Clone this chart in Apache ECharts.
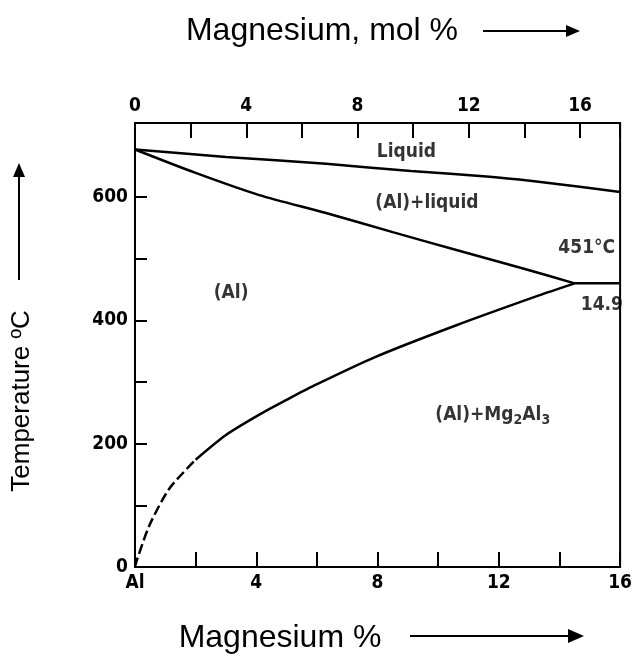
<!DOCTYPE html>
<html>
<head>
<meta charset="utf-8">
<script src="https://cdn.jsdelivr.net/npm/echarts@6/dist/echarts.min.js"></script>
<style>
  html, body { margin: 0; padding: 0; background: #fff; }
  #chart { width: 635px; height: 664px; }
</style>
</head>
<body>
<div id="chart"></div>
<script>
// Al-Mg phase diagram, Al-rich side (wt% Mg on the bottom, mol% on top)
var liquidus = [[0, 677], [3.0, 665], [6.3, 654], [9.1, 642], [11.7, 633], [13.1, 626], [14.6, 617], [16, 608]];
var solidus = [[0, 677], [2.0, 639], [4.1, 603], [6.3, 574], [8.5, 543], [10.6, 514], [12.8, 484], [14.5, 460]];
var solvus = [[2.0, 174], [3.0, 214], [4.1, 247], [5.0, 271], [5.9, 294], [7.9, 340], [10.6, 392], [13.3, 440], [14.5, 460]];
var solvusDashed = [[0, 0], [0.06, 11], [0.48, 68], [1.13, 127], [2.0, 174]];
var eutectic = [[14.5, 460], [16, 460]];

var yTicks = [0, 100, 200, 300, 400, 500, 600];
var yLabels = [0, 200, 400, 600];

// region labels, anchored in data space (wt%, degC)
var regionLabels = [
  { name: 'Liquid', value: [8.95, 673] },
  { name: '(Al)+liquid', value: [9.63, 590] },
  { name: '(Al)', value: [3.17, 444] },
  { name: '451°C', value: [14.9, 517] },
  { name: '14.9', value: [15.4, 425] },
  { name: '(Al)+Mg{s|2}Al{s|3}', value: [11.8, 246] }
];

var chart = echarts.init(document.getElementById('chart'));
var tickFont = 'DejaVu Sans Condensed';
var lineW = 2.5;

function curve(name, data, dashed) {
  return {
    name: name,
    type: 'line',
    xAxisIndex: 0,
    yAxisIndex: 0,
    data: data,
    showSymbol: false,
    smooth: 0.25,
    silent: true,
    lineStyle: { color: '#000', width: lineW, type: dashed ? [10, 4] : 'solid' }
  };
}

var labelStyle = { color: '#000', fontSize: 19, fontFamily: tickFont, fontWeight: 'bold' };

var option = {
  animation: false,
  backgroundColor: '#fff',
  grid: {
    left: 135, top: 123, right: 5, bottom: 97,
    show: true, borderColor: '#000', borderWidth: 2
  },
  xAxis: [{
    type: 'value',
    position: 'bottom',
    min: 0, max: 16, interval: 2,
    axisLine: { lineStyle: { color: '#000', width: 2 } },
    axisTick: { inside: true, length: 15, lineStyle: { color: '#000', width: 2 } },
    splitLine: { show: false },
    axisLabel: Object.assign({
      margin: 7,
      formatter: function (v) {
        if (v === 0) return 'Al';
        return v % 4 === 0 ? String(v) : '';
      }
    }, labelStyle)
  }, {
    type: 'value',
    position: 'top',
    min: 0, max: 17.44, interval: 2,
    axisLine: { lineStyle: { color: '#000', width: 2 } },
    axisTick: { inside: true, length: 15, lineStyle: { color: '#000', width: 2 } },
    splitLine: { show: false },
    axisLabel: Object.assign({
      margin: 7,
      formatter: function (v) { return v % 4 === 0 ? String(v) : ''; }
    }, labelStyle)
  }],
  yAxis: [{
    type: 'value',
    min: 0, max: 720, interval: 100,
    axisLine: { show: true, lineStyle: { color: '#000', width: 2 } },
    axisTick: { show: true, inside: true, length: 12, customValues: yTicks, lineStyle: { color: '#000', width: 2 } },
    splitLine: { show: false },
    axisLabel: Object.assign({ margin: 7, customValues: yLabels }, labelStyle)
  }],
  series: [
    curve('liquidus', liquidus),
    curve('solidus', solidus),
    curve('solvus', solvus),
    curve('solvus-dashed', solvusDashed, true),
    {
      name: 'eutectic', type: 'line', data: eutectic, showSymbol: false, silent: true,
      lineStyle: { color: '#000', width: lineW }
    },
    {
      name: 'labels', type: 'scatter', data: regionLabels, symbolSize: 0, silent: true,
      label: Object.assign({
        show: true, position: 'inside',
        formatter: function (p) { return p.name; },
        rich: { s: { fontSize: 14, fontFamily: tickFont, fontWeight: 'bold', color: '#000', padding: [10, 0, 0, 0] } }
      }, labelStyle)
    }
  ],
  graphic: [
    { type: 'text', x: 322, y: 31, style: { text: 'Magnesium, mol %', font: '32px "Liberation Sans"', fill: '#000', textAlign: 'center', textVerticalAlign: 'middle', align: 'center', verticalAlign: 'middle' } },
    { type: 'line', shape: { x1: 483, y1: 31, x2: 568, y2: 31 }, style: { stroke: '#000', lineWidth: 2 } },
    { type: 'polygon', shape: { points: [[566, 25], [580, 31], [566, 37]] }, style: { fill: '#000' } },

    { type: 'text', x: 280, y: 638, style: { text: 'Magnesium %', font: '32px "Liberation Sans"', fill: '#000', textAlign: 'center', textVerticalAlign: 'middle', align: 'center', verticalAlign: 'middle' } },
    { type: 'line', shape: { x1: 410, y1: 636, x2: 570, y2: 636 }, style: { stroke: '#000', lineWidth: 2 } },
    { type: 'polygon', shape: { points: [[568, 629], [584, 636], [568, 643]] }, style: { fill: '#000' } },

    { type: 'text', x: 22, y: 401, rotation: Math.PI / 2, style: { text: 'Temperature ºC', font: '26px "Liberation Sans"', fill: '#000', textAlign: 'center', textVerticalAlign: 'middle', align: 'center', verticalAlign: 'middle' } },
    { type: 'line', shape: { x1: 19, y1: 280, x2: 19, y2: 175 }, style: { stroke: '#000', lineWidth: 2 } },
    { type: 'polygon', shape: { points: [[13, 177], [19, 163], [25, 177]] }, style: { fill: '#000' } }
  ]
};

chart.setOption(option);
</script>
</body>
</html>
